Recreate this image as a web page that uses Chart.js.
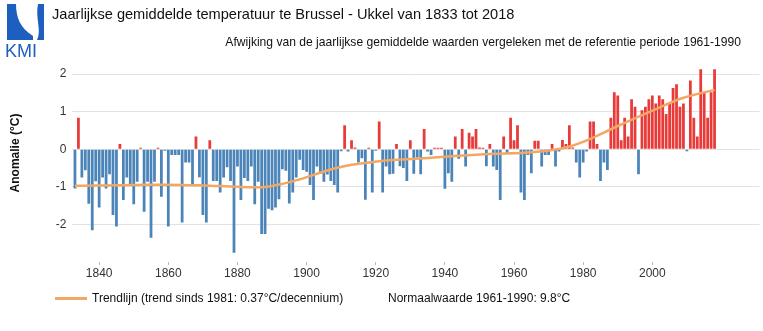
<!DOCTYPE html>
<html lang="nl">
<head>
<meta charset="utf-8">
<title>Jaarlijkse gemiddelde temperatuur te Brussel - Ukkel</title>
<script src="https://cdn.jsdelivr.net/npm/chart.js@4.4.1/dist/chart.umd.min.js"></script>
<style>
  html, body { margin: 0; padding: 0; background: #fff; }
  body { width: 763px; height: 331px; position: relative; overflow: hidden;
         font-family: "Liberation Sans", Arial, Helvetica, sans-serif; color: #111; }
  #chart { position: absolute; left: 0; top: 0; }
  .abs { position: absolute; white-space: nowrap; }
  #logo { left: 4px; top: 3px; }
  #title { left: 52px; top: 6px; font-size: 14.6px; }
  #subtitle { right: 22px; top: 35px; font-size: 12.1px; }
  #ytitle { left: 15px; top: 153px; font-size: 12px; font-weight: bold;
            transform: translate(-50%, -50%) rotate(-90deg); }
  #legendLine { left: 55px; top: 297px; width: 32px; height: 3px; background: #f2a862; }
  #legendTrend { left: 92px; top: 291px; font-size: 12px; }
  #legendNormal { left: 388px; top: 291px; font-size: 12px; }
</style>
</head>
<body>
<canvas id="chart" width="763" height="331"></canvas>

<svg id="logo" class="abs" width="42" height="56" viewBox="0 0 42 56">
  <path d="M3,1 L12,1 C12,14 16,25 29,33 L29,37 L3,37 Z" fill="#1d5fbf"/>
  <path d="M34,1 L40,1 L40,37 L33,37 C38,27 31,16 34,1 Z" fill="#1d5fbf"/>
  <text x="1" y="54" font-family="Liberation Sans, Arial, sans-serif" font-size="18" fill="#1d5fbf">KMI</text>
</svg>
<div id="title" class="abs">Jaarlijkse gemiddelde temperatuur te Brussel - Ukkel van 1833 tot 2018</div>
<div id="subtitle" class="abs">Afwijking van de jaarlijkse gemiddelde waarden vergeleken met de referentie periode 1961-1990</div>
<div id="ytitle" class="abs">Anomalie (°C)</div>
<div id="legendLine" class="abs"></div>
<div id="legendTrend" class="abs">Trendlijn (trend sinds 1981: 0.37°C/decennium)</div>
<div id="legendNormal" class="abs">Normaalwaarde 1961-1990: 9.8°C</div>

<script>
"use strict";

// data

const firstYear = 1833;

// yearly anomaly (°C) against the 1961-1990 mean, 1833 .. 2018
const anomalies = [
  -1.04, 0.84, -0.75, -0.56, -1.45, -2.15, -0.85,                    // 1833-1839
  -1.55, -0.75, -1.04, -0.66, -1.75, -2.05, 0.14, -1.35, -0.75, -0.92, // 1840s
  -1.46, -0.86, 0.04, -1.66, -0.86, -2.35, -0.86, 0.04, -1.26, -0.04,  // 1850s
  -2.05, -0.15, -0.15, -0.15, -1.95, -0.35, -0.35, -0.92, 0.34, -0.74, // 1860s
  -1.75, -1.95, 0.24, -0.84, -0.84, -1.15, -0.75, -0.48, -0.84, -2.75, // 1870s
  -0.46, -1.35, -0.76, -0.84, -0.46, -1.46, -0.86, -2.25, -2.25, -1.58, // 1880s
  -1.62, -1.55, -1.33, -0.53, -0.57, -1.44, -1.15, -0.75, -0.28, -0.55, // 1890s
  -0.60, -0.95, -1.35, -0.46, -0.65, -0.86, -0.67, -0.84, -0.95, -1.15, // 1900s
  -0.05, 0.64, -0.06, 0.24, 0.05, -0.35, -0.24, -1.34, 0.04, -1.15,    // 1910s
  -0.04, 0.74, -1.15, -0.46, -0.66, -0.65, 0.14, -0.45, -0.50, -0.84,  // 1920s
  0.24, -0.65, -0.22, -0.66, 0.54, -0.06, -0.15, 0.04, 0.04, 0.04,     // 1930s
  -1.05, -0.64, -0.86, 0.34, -0.25, 0.54, -0.46, 0.44, 0.34, 0.54,     // 1940s
  0.05, 0.04, -0.45, 0.14, -0.46, -0.55, -1.35, 0.34, -0.12, 0.84,     // 1950s
  0.24, 0.64, -1.15, -1.35, -0.15, -0.64, 0.23, 0.23, -0.46, -0.15,    // 1960s
  -0.15, 0.14, -0.46, -0.06, 0.25, 0.14, 0.64, 0.05, -0.35, -0.75,     // 1970s
  -0.35, -0.06, 0.74, 0.74, 0.14, -0.84, -0.35, -0.55, 0.84, 1.52,     // 1980s
  1.43, 0.24, 0.84, 0.34, 1.33, 1.13, -0.66, 1.04, 1.13, 1.33,         // 1990s
  1.43, 1.22, 1.43, 1.33, 0.94, 1.22, 1.63, 1.73, 1.13, 1.22,          // 2000s
  -0.05, 1.83, 0.84, 0.34, 2.13, 1.52, 0.84, 1.52, 2.13                // 2010-2018
];

// smoothed trend, read at a few years
const trendYears  = [1833, 1840, 1850, 1860, 1870, 1878, 1884, 1888, 1893, 1898, 1903, 1908,
                     1913, 1918, 1923, 1930, 1935, 1944, 1954, 1963, 1970, 1975, 1980, 1990,
                     2000, 2009, 2018];
const trendValues = [-0.97, -0.96, -0.95, -0.94, -0.96, -0.99, -1.01, -1.00, -0.92, -0.80, -0.65, -0.51,
                     -0.41, -0.35, -0.30, -0.26, -0.23, -0.17, -0.12, -0.09, -0.03, 0.05, 0.20, 0.62,
                     1.03, 1.37, 1.58];

const xTicks = [1840, 1860, 1880, 1900, 1920, 1940, 1960, 1980, 2000];
const yTicks = [-2, -1, 0, 1, 2];

// colours
const warmColor = 'rgb(232, 58, 56)';
const coldColor = 'rgb(74, 132, 184)';
const trendColor = 'rgb(242, 168, 98)';
const gridColor = '#e2e2e2';

const years = anomalies.map((_, i) => firstYear + i);
const barPoints = years.map((y, i) => ({ x: y, y: anomalies[i] }));
const trendPoints = trendYears.map((y, i) => ({ x: y, y: trendValues[i] }));

const config = {
  type: 'bar',
  data: {
    datasets: [{
        type: 'line',
        data: trendPoints,
        borderColor: trendColor,
        borderWidth: 2.5,
        pointRadius: 0,
        fill: false,
        cubicInterpolationMode: 'monotone',
        order: 0
      }, {
        type: 'bar',
        data: barPoints,
        backgroundColor: anomalies.map(v => v >= 0 ? warmColor : coldColor),
        borderWidth: 0,
        barPercentage: 0.8,
        categoryPercentage: 1.0,
        order: 1
    }
  ]},
  options: {
    responsive: false,
    animation: false,
    layout: {
      padding: { left: 0, right: 3.5, top: 66.6, bottom: 48.9 }
    },
    plugins: {
      legend: { display: false },
      tooltip: { enabled: false },
      title: { display: false }
    },
    scales: {
      x: {
        type: 'linear',
        min: 1832,
        max: 2031,
        offset: false,
        afterBuildTicks: (axis) => { axis.ticks = xTicks.map(v => ({ value: v })); },
        afterFit: (axis) => { axis.height = 20; },
        border: { display: false },
        grid: { offset: false, drawOnChartArea: false, drawTicks: true, tickLength: 3, color: '#bbb' },
        ticks: {
          padding: 1,
          maxRotation: 0,
          autoSkip: false,
          color: '#333',
          font: { family: 'Liberation Sans', size: 12 },
          callback: (value) => String(value)
        }
      },
      y: {
        min: -3,
        max: 2.2,
        afterBuildTicks: (axis) => { axis.ticks = yTicks.map(v => ({ value: v })); },
        afterFit: (axis) => { axis.width = 71.5; },
        border: { display: false },
        grid: { color: gridColor, drawTicks: false },
        ticks: {
          padding: 5,
          color: '#333',
          font: { family: 'Liberation Sans', size: 12 },
          callback: (value) => String(value)
        }
      }
    }
  }
};

const anomalyChart = new Chart(document.getElementById('chart'), config);
</script>
</body>
</html>
